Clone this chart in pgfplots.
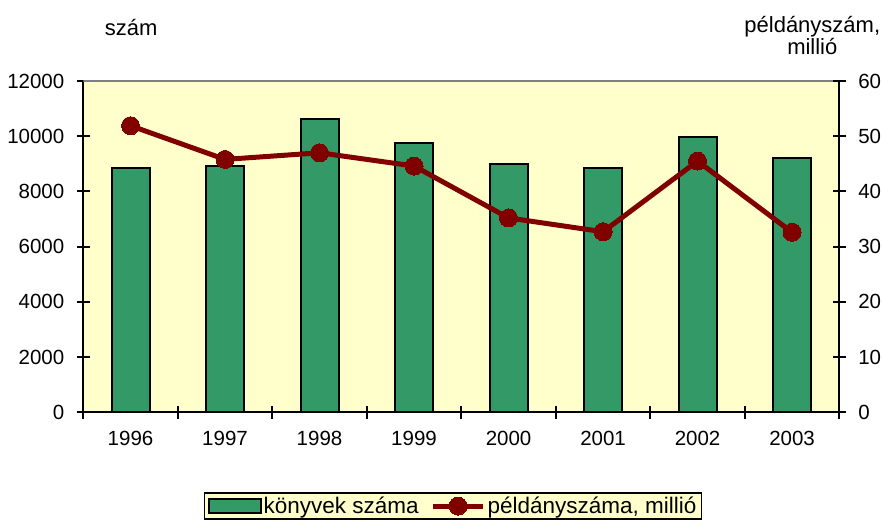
\documentclass[border=0pt]{standalone}
\usepackage{pgfplots}
\pgfplotsset{compat=1.18}
\usepackage{fontspec}
\setmainfont{Liberation Sans}
\definecolor{bargreen}{HTML}{339966}
\definecolor{linered}{HTML}{800000}
\definecolor{bgyellow}{HTML}{FFFFCC}
\pgfplotsset{
  linelegend/.style={legend image code/.code={\draw[##1, mark repeat=2, mark phase=2] plot coordinates {(0pt,0pt) (25pt,0pt) (50pt,0pt)};}},
  barlegend/.style={legend image code/.code={\draw[fill=bargreen, draw=black, line width=2pt] (0pt,-7pt) rectangle (52pt,7pt);}},
}

\begin{document}
\begin{tikzpicture}
\useasboundingbox (-83.3pt,-112.7pt) rectangle (798.7pt,412.3pt);
\begin{axis}[
  at={(0pt,0pt)}, anchor=south west,
  scale only axis, width=756pt, height=331.3pt,
  xmin=-0.5, xmax=7.5, ymin=0, ymax=12000,
  axis x line*=bottom, axis y line*=left,
  axis line style={line width=2pt, -},
  axis background/.style={fill=bgyellow},
  xtick={-0.5,0.5,...,7.5},
  x tick label as interval,
  xticklabels={1996,1997,1998,1999,2000,2001,2002,2003},
  ytick={0,2000,...,12000},
  scaled y ticks=false,
  tick align=center, major tick length=13pt,
  tick style={line width=2pt, black},
  ticklabel style={font=\fontsize{20.5}{25}\selectfont},
  xticklabel style={yshift=-9pt},
  yticklabel style={xshift=-9pt},
  /pgf/number format/assume math mode=true,
  /pgf/number format/set thousands separator={},
  ylabel={szám},
  ylabel style={rotate=-90, at={(axis description cs:0,1)}, anchor=west,
    font=\fontsize{22}{25}\selectfont, xshift=18pt, yshift=53pt},
]
\addplot[ybar, bar width=38pt, fill=bargreen, draw=black, line width=2pt]
  coordinates {(0,8838) (1,8921) (2,10613) (3,9743) (4,8994) (5,8838) (6,9983) (7,9211)};
\draw[gray, line width=2pt] (rel axis cs:0,1) -- (rel axis cs:1,1);
\end{axis}
\begin{axis}[
  at={(0pt,0pt)}, anchor=south west,
  scale only axis, width=756pt, height=331.3pt,
  xmin=-0.5, xmax=7.5, ymin=0, ymax=60,
  axis y line*=right, axis x line=none,
  axis line style={line width=2pt, -},
  ytick={0,10,...,60},
  tick align=center, major tick length=13pt,
  tick style={line width=2pt, black},
  ticklabel style={font=\fontsize{20.5}{25}\selectfont},
  yticklabel style={xshift=9pt},
  /pgf/number format/assume math mode=true,
  ylabel={példányszám,\\millió},
  ylabel style={rotate=-90, at={(axis description cs:1,1)}, anchor=center, align=center,
    font=\fontsize{22}{22}\selectfont, xshift=-27pt, yshift=45pt},
  legend columns=2,
  legend style={at={(axis description cs:0.489,-0.283)}, anchor=center,
    fill=bgyellow, draw=black, line width=1.5pt,
    font=\fontsize{22.5}{25}\selectfont,
    /tikz/every even column/.append style={column sep=10pt}},
]
\addlegendimage{barlegend}
\addlegendentry{könyvek száma}
\addplot[linered, line width=5pt, mark=*, mark size=9pt,
  mark options={solid, fill=linered, draw=linered, line width=0pt}, linelegend]
  coordinates {(0,51.9) (1,45.8) (2,47.0) (3,44.6) (4,35.2) (5,32.7) (6,45.5) (7,32.6)};
\addlegendentry{példányszáma, millió}
\end{axis}
\end{tikzpicture}
\end{document}
